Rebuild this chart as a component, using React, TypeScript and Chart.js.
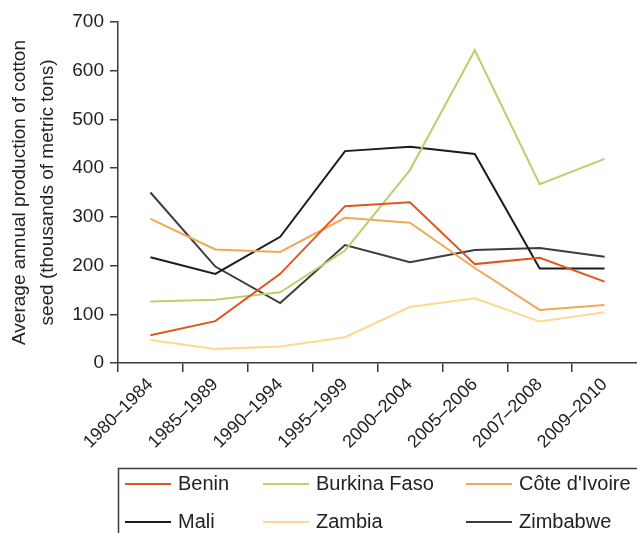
import React, { useEffect, useRef } from "react";
import { Chart, registerables } from "chart.js";

Chart.register(...registerables);

const categories = ["1980–1984", "1985–1989", "1990–1994", "1995–1999", "2000–2004", "2005–2006", "2007–2008", "2009–2010"];
const benin = [57, 86, 183, 322, 330, 203, 216, 167];
const burkinaFaso = [126, 130, 145, 231, 396, 642, 367, 419];
const coteIvoire = [296, 233, 228, 298, 288, 195, 109, 119];
const mali = [217, 183, 259, 435, 444, 429, 194, 194];
const zambia = [47, 29, 34, 53, 115, 133, 85, 104];
const zimbabwe = [350, 198, 123, 242, 207, 232, 236, 218];
const yTicks = [0, 100, 200, 300, 400, 500, 600, 700];
const seriesNames = ["Benin", "Burkina Faso", "Côte d'Ivoire", "Mali", "Zambia", "Zimbabwe"];
const seriesColors = ["#e0561e", "#b9d16d", "#f0a852", "#1c1c1c", "#fdd88e", "#3c3c3c"];
const yTitle = ["Average annual production of cotton", "seed (thousands of metric tons)"];

const FONT = "Arial, 'Liberation Sans', Helvetica, sans-serif";
const AXIS = "#3a3a3a";
const TEXT = "#222222";

const legendPlugin = {
  id: "boxLegend",
  afterDraw(chart: any) {
    const ctx = chart.ctx;
    const ds = chart.data.datasets;
    const left = 118.5;
    const top = 468.5;
    ctx.save();
    ctx.strokeStyle = AXIS;
    ctx.lineWidth = 1.5;
    ctx.beginPath();
    ctx.moveTo(left, chart.height + 2);
    ctx.lineTo(left, top);
    ctx.lineTo(chart.width + 2, top);
    ctx.stroke();
    const colX = [125, 263, 466];
    const rowY = [484, 522];
    ctx.font = "20px " + FONT;
    ctx.textBaseline = "middle";
    ctx.textAlign = "left";
    ds.forEach((d: any, i: number) => {
      const cx = colX[i % 3];
      const cy = rowY[Math.floor(i / 3)];
      ctx.strokeStyle = d.borderColor;
      ctx.lineWidth = 2;
      ctx.beginPath();
      ctx.moveTo(cx, cy);
      ctx.lineTo(cx + 46, cy);
      ctx.stroke();
      ctx.fillStyle = TEXT;
      ctx.fillText(d.label, cx + 53, cy);
    });
    ctx.restore();
  },
};

export default function App() {
  const ref = useRef<HTMLCanvasElement>(null);
  useEffect(() => {
    document.body.style.margin = "0";
    const seriesData = [benin, burkinaFaso, coteIvoire, mali, zambia, zimbabwe];
    const chart = new Chart(ref.current!, {
      type: "line",
      data: {
        labels: categories,
        datasets: seriesData.map((d, i) => ({
          label: seriesNames[i],
          data: d,
          borderColor: seriesColors[i],
          backgroundColor: seriesColors[i],
          borderWidth: 2,
          pointRadius: 0,
          tension: 0,
          fill: false,
        })),
      },
      options: {
        animation: false,
        responsive: false,
        maintainAspectRatio: false,
        devicePixelRatio: 1,
        layout: { padding: { top: 22, right: 0, bottom: 70, left: 0 } },
        plugins: { legend: { display: false }, tooltip: { enabled: false } },
        scales: {
          x: {
            type: "category",
            offset: true,
            border: { display: true, color: AXIS, width: 1.5 },
            grid: {
              display: true,
              offset: true,
              drawOnChartArea: false,
              drawTicks: true,
              tickLength: 9,
              color: (c: any) => (c.type !== "tick" ? "rgba(0,0,0,0)" : AXIS),
              lineWidth: 1.5,
            },
            ticks: { autoSkip: false, maxRotation: 45, minRotation: 45, padding: 2, color: TEXT, font: { family: FONT, size: 18 } },
            afterFit: (s: any) => { s.height = 100; },
          },
          y: {
            min: 0,
            max: 700,
            afterBuildTicks: (s: any) => { s.ticks = yTicks.map((v) => ({ value: v })); },
            border: { display: true, color: AXIS, width: 1.5 },
            grid: { display: true, drawOnChartArea: false, drawTicks: true, tickLength: 8, color: AXIS, lineWidth: 1.5 },
            ticks: { padding: 6, color: TEXT, font: { family: FONT, size: 19 } },
            title: { display: true, text: yTitle, color: TEXT, font: { family: FONT, size: 19, lineHeight: 1.45 }, padding: { top: 6, bottom: 0 } },
            afterFit: (s: any) => { s.width = 118; },
          },
        },
      },
      plugins: [legendPlugin],
    });
    return () => chart.destroy();
  }, []);
  return <canvas ref={ref} width={637} height={533} style={{ display: "block" }} />;
}
